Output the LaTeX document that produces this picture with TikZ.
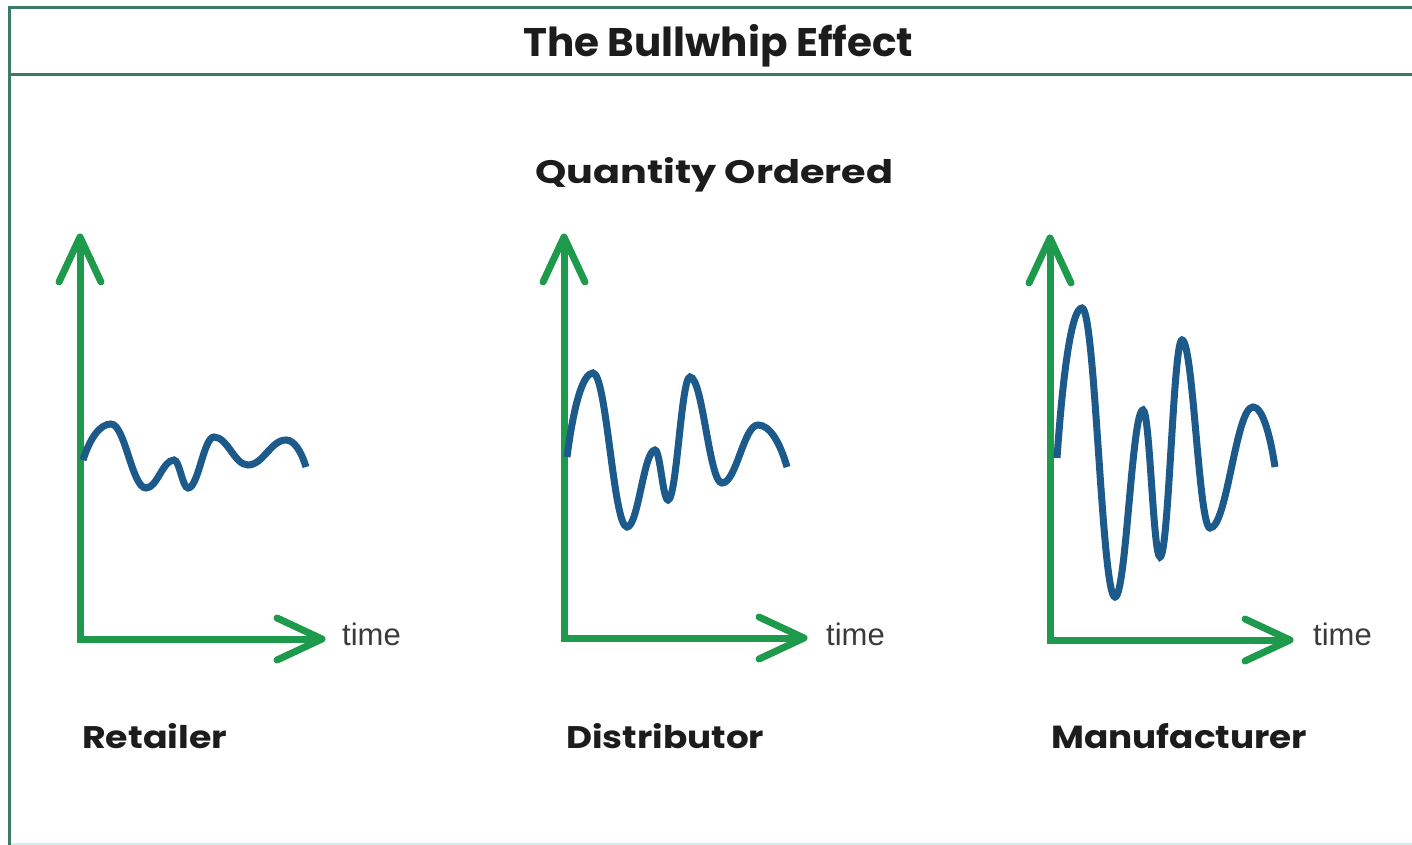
\documentclass[tikz,border=0pt]{standalone}
\usepackage{fontspec}
\usepackage{graphicx}
\setmainfont{Poppins}
\newfontfamily\timefont{Liberation Sans}
\usetikzlibrary{calc}
\definecolor{framec}{HTML}{3D7A63}
\definecolor{framelight}{HTML}{C9F3E8}
\definecolor{axisc}{HTML}{1E9A4C}
\definecolor{wavec}{HTML}{1B5A8A}
\definecolor{textc}{HTML}{1C1C1C}
\definecolor{timec}{HTML}{3A3A3A}
\tikzset{
  frameline/.style={draw=framec, line width=3pt},
  axisline/.style={draw=axisc, line width=7pt, line join=miter},
  chevron/.style={draw=axisc, line width=7pt, line join=round, line cap=round},
  wave/.style={draw=wavec, line width=7pt},
  lbl/.style={inner sep=0pt, text=textc, anchor=base west, font=\bfseries},
  timelbl/.style={inner sep=0pt, text=timec, anchor=base west, font=\timefont\fontsize{31}{36}\selectfont},
}
\begin{document}
\begin{tikzpicture}[x=1pt,y=-1pt]
\useasboundingbox (0,0) rectangle (1412,845);
\fill[white] (0,0) rectangle (1412,845);

% frame
\draw[draw=framelight, line width=3pt] (9,844) -- (1412,844);
\draw[frameline] (9,845) -- (9,8) -- (1412,8);
\draw[frameline] (9,75) -- (1412,75);

% titles
\node[lbl] (title) at (523,57) {\resizebox{390pt}{32pt}{The Bullwhip Effect}};
\node[lbl] (qty) at (535,183) {\resizebox{358pt}{26pt}{Quantity Ordered}};

% ---------- Retailer ----------
\coordinate (ro) at (80,639);
\coordinate (ry) at (80,237);
\coordinate (rx) at (322,639);
\draw[axisline] (ry) -- (ro) -- (rx);
\draw[chevron] ($(ry)+(-21,45)$) -- (ry) -- ($(ry)+(21,45)$);
\draw[chevron] ($(rx)+(-45,-21)$) -- (rx) -- ($(rx)+(-45,21)$);
\draw[wave] (83,460) .. controls (90,438.4) and (99.8,424) .. (111,424)
  .. controls (125,424) and (132,488) .. (146,488)
  .. controls (157.2,488) and (162.8,460) .. (174,460)
  .. controls (179.6,460) and (182.4,488) .. (188,488)
  .. controls (198.4,488) and (203.6,437) .. (214,437)
  .. controls (227.6,437) and (234.4,465) .. (248,465)
  .. controls (263.2,465) and (270.8,440) .. (286,440)
  .. controls (294,440) and (301,450.8) .. (306,467);
\node[timelbl] (rtime) at (342,645) {time};
\node[lbl] (retailer) at (82,748) {\resizebox{145pt}{25pt}{Retailer}};

% ---------- Distributor ----------
\coordinate (do) at (564,638);
\coordinate (dy) at (564,237);
\coordinate (dx) at (804,638);
\draw[axisline] (dy) -- (do) -- (dx);
\draw[chevron] ($(dy)+(-21,45)$) -- (dy) -- ($(dy)+(21,45)$);
\draw[chevron] ($(dx)+(-45,-21)$) -- (dx) -- ($(dx)+(-45,21)$);
\draw[wave] (567,457) .. controls (573.5,406.6) and (582.6,373) .. (593,373)
  .. controls (606.6,373) and (613.4,527) .. (627,527)
  .. controls (638.2,527) and (643.8,450) .. (655,450)
  .. controls (660.2,450) and (662.8,500) .. (668,500)
  .. controls (676.8,500) and (681.2,377) .. (690,377)
  .. controls (702.8,377) and (709.2,483) .. (722,483)
  .. controls (736.4,483) and (743.6,425) .. (758,425)
  .. controls (769.6,425) and (779.75,441.8) .. (787,467);
\node[timelbl] (dtime) at (826,645) {time};
\node[lbl] (distributor) at (566,748) {\resizebox{198pt}{25pt}{Distributor}};

% ---------- Manufacturer ----------
\coordinate (mo) at (1050,640);
\coordinate (my) at (1050,238);
\coordinate (mx) at (1290,640);
\draw[axisline] (my) -- (mo) -- (mx);
\draw[chevron] ($(my)+(-21,45)$) -- (my) -- ($(my)+(21,45)$);
\draw[chevron] ($(mx)+(-45,-21)$) -- (mx) -- ($(mx)+(-45,21)$);
\draw[wave] (1057,458) .. controls (1063.25,368) and (1072,308) .. (1082,308)
  .. controls (1095.2,308) and (1101.8,597) .. (1115,597)
  .. controls (1126.2,597) and (1131.8,410) .. (1143,410)
  .. controls (1149.8,410) and (1153.2,557) .. (1160,557)
  .. controls (1168.8,557) and (1173.2,340) .. (1182,340)
  .. controls (1193.2,340) and (1198.8,528) .. (1210,528)
  .. controls (1227.2,528) and (1235.8,407) .. (1253,407)
  .. controls (1261.8,407) and (1269.5,431) .. (1275,467);
\node[timelbl] (mtime) at (1313,645) {time};
\node[lbl] (manufacturer) at (1051,748) {\resizebox{256pt}{25pt}{Manufacturer}};
\end{tikzpicture}
\end{document}
